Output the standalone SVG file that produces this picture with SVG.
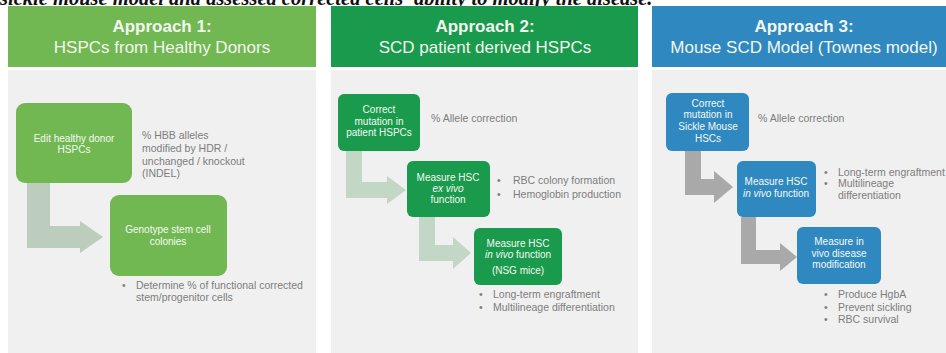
<svg xmlns="http://www.w3.org/2000/svg" width="946" height="353" viewBox="0 0 946 353">
  <defs>
    <style>
      .caption { font-family: "Liberation Serif", serif; font-style: italic; font-weight: bold; font-size: 20.5px; fill: #111; }
      .head { font-family: "Liberation Sans", Arial, sans-serif; font-size: 17px; fill: #f2f6f0; text-anchor: middle; }
      .head .b { font-weight: bold; }
      .body { fill: #f0f0f0; }
      .node-t { font-family: "Liberation Sans", Arial, sans-serif; font-size: 10px; fill: #f4f8f2; text-anchor: middle; }
      .note { font-family: "Liberation Sans", Arial, sans-serif; font-size: 10.5px; fill: #7d7d7d; }
      .g1 { fill: #72b852; }
      .g2 { fill: #1a9a4c; }
      .b3 { fill: #2f89c0; }
      .a1 { fill: #bccdbd; }
      .a2 { fill: #c3d7c6; }
      .a3 { fill: #a9a9a9; }
    </style>
  </defs>

  <rect width="946" height="353" fill="#ffffff"/>

  <!-- caption line running off the top edge -->
  <text class="caption" x="0" y="5">sickle mouse model and assessed corrected cells' ability to modify the disease.</text>

  <!-- panel backgrounds and headers -->
  <g id="panel1">
    <rect class="g1" x="8" y="6" width="308" height="61"/>
    <rect class="body" x="8" y="70" width="308" height="283"/>
    <text class="head"><tspan class="b" x="162" y="32">Approach 1:</tspan><tspan x="162" y="53">HSPCs from Healthy Donors</tspan></text>
  </g>
  <g id="panel2">
    <rect class="g2" x="331" y="6" width="307" height="61"/>
    <rect class="body" x="331" y="70" width="307" height="283"/>
    <text class="head"><tspan class="b" x="485" y="32">Approach 2:</tspan><tspan x="485" y="53">SCD patient derived HSPCs</tspan></text>
  </g>
  <g id="panel3">
    <rect class="b3" x="652" y="6" width="300" height="61"/>
    <rect class="body" x="652" y="70" width="300" height="283"/>
    <text class="head"><tspan class="b" x="804" y="32">Approach 3:</tspan><tspan x="804" y="53">Mouse SCD Model (Townes model)</tspan></text>
  </g>

  <!-- connectors: broad L-shaped arrows -->
  <g id="connectors">
    <polygon class="a1" points="27,183 50,183 50,226 80,226 80,221 103,237 80,253 80,248 27,248"/>
    <polygon class="a2" points="346,151 362,151 362,182 387,182 387,176 406,190 387,204 387,198 346,198"/>
    <polygon class="a2" points="419,217 435,217 435,245 453,245 453,237 471,253 453,269 453,261 419,261"/>
    <polygon class="a3" points="685,151 701,151 701,179 714,179 714,171 733,187 714,203 714,195 685,195"/>
    <polygon class="a3" points="741,217 756,217 756,250 780,250 780,243 797,257 780,271 780,264 741,264"/>
  </g>

  <!-- Approach 1 nodes -->
  <g id="edit-donor">
    <rect class="g1" x="16" y="103" width="116" height="80" rx="9"/>
    <text class="node-t" font-size="10.5"><tspan x="74" y="142">Edit healthy donor</tspan><tspan x="74" y="153">HSPCs</tspan></text>
  </g>
  <g id="genotype">
    <rect class="g1" x="110" y="195" width="117" height="81" rx="9"/>
    <text class="node-t" font-size="10.5"><tspan x="168" y="233">Genotype stem cell</tspan><tspan x="168" y="245">colonies</tspan></text>
  </g>
  <g id="notes1">
    <text class="note"><tspan x="142" y="139">% HBB alleles</tspan><tspan x="142" y="152">modified by HDR /</tspan><tspan x="142" y="165">unchanged / knockout</tspan><tspan x="142" y="177">(INDEL)</tspan></text>
    <text class="note"><tspan x="122" y="289">•</tspan><tspan x="136" y="289">Determine % of functional corrected</tspan><tspan x="136" y="301">stem/progenitor cells</tspan></text>
  </g>

  <!-- Approach 2 nodes -->
  <g id="correct-patient">
    <rect class="g2" x="338" y="94" width="82" height="57" rx="6"/>
    <text class="node-t"><tspan x="379" y="113">Correct</tspan><tspan x="379" y="125">mutation in</tspan><tspan x="379" y="136">patient HSPCs</tspan></text>
  </g>
  <g id="ex-vivo">
    <rect class="g2" x="407" y="161" width="83" height="56" rx="6"/>
    <text class="node-t"><tspan x="448" y="181">Measure HSC</tspan><tspan x="448" y="192" font-style="italic">ex vivo</tspan><tspan x="448" y="203">function</tspan></text>
  </g>
  <g id="in-vivo-nsg">
    <rect class="g2" x="474" y="228" width="88" height="57" rx="6"/>
    <text class="node-t"><tspan x="518" y="247">Measure HSC</tspan><tspan x="518" y="258"><tspan font-style="italic">in vivo</tspan> function</tspan><tspan x="518" y="274">(NSG mice)</tspan></text>
  </g>
  <g id="notes2">
    <text class="note" x="431" y="122">% Allele correction</text>
    <text class="note"><tspan x="497" y="184">•</tspan><tspan x="513" y="184">RBC colony formation</tspan><tspan x="497" y="198">•</tspan><tspan x="513" y="198">Hemoglobin production</tspan></text>
    <text class="note"><tspan x="479" y="298">•</tspan><tspan x="493" y="298">Long-term engraftment</tspan><tspan x="479" y="311">•</tspan><tspan x="493" y="311">Multilineage differentiation</tspan></text>
  </g>

  <!-- Approach 3 nodes -->
  <g id="correct-mouse">
    <rect class="b3" x="666" y="93" width="83" height="58" rx="6"/>
    <text class="node-t"><tspan x="708" y="107">Correct</tspan><tspan x="708" y="118">mutation in</tspan><tspan x="708" y="130">Sickle Mouse</tspan><tspan x="708" y="142">HSCs</tspan></text>
  </g>
  <g id="in-vivo-mouse">
    <rect class="b3" x="737" y="161" width="79" height="56" rx="6"/>
    <text class="node-t"><tspan x="776" y="185">Measure HSC</tspan><tspan x="776" y="197"><tspan font-style="italic">in vivo</tspan> function</tspan></text>
  </g>
  <g id="disease-mod">
    <rect class="b3" x="797" y="227" width="84" height="57" rx="6"/>
    <text class="node-t"><tspan x="839" y="245">Measure in</tspan><tspan x="839" y="257">vivo disease</tspan><tspan x="839" y="268">modification</tspan></text>
  </g>
  <g id="notes3">
    <text class="note" x="758" y="122">% Allele correction</text>
    <text class="note"><tspan x="824" y="176">•</tspan><tspan x="838" y="176">Long-term engraftment</tspan><tspan x="824" y="187">•</tspan><tspan x="838" y="187">Multilineage</tspan><tspan x="838" y="199">differentiation</tspan></text>
    <text class="note"><tspan x="824" y="298">•</tspan><tspan x="838" y="298">Produce HgbA</tspan><tspan x="824" y="311">•</tspan><tspan x="838" y="311">Prevent sickling</tspan><tspan x="824" y="323">•</tspan><tspan x="838" y="323">RBC survival</tspan></text>
  </g>
</svg>
